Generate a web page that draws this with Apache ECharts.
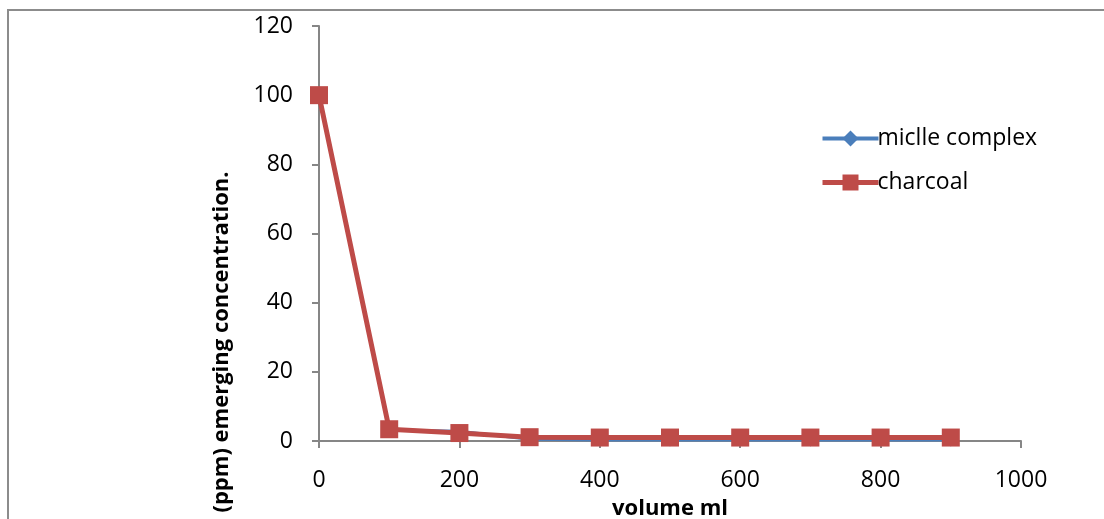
<!DOCTYPE html>
<html><head><meta charset="utf-8">
<script src="https://cdn.jsdelivr.net/npm/echarts@6/dist/echarts.min.js"></script>
<style>html,body{margin:0;padding:0;background:#fff}#c{width:1104px;height:519px}</style>
</head><body><div id="c"></div>
<script>
const volumes = [0, 100, 200, 300, 400, 500, 600, 700, 800, 900];
const micelleComplex = [100, 3.2, 2.8, 0.5, 0.3, 0.3, 0.3, 0.3, 0.3, 0.3];
const charcoal = [100, 3.4, 2.3, 1.1, 1.0, 1.0, 1.0, 1.0, 1.0, 1.0];
const xName = 'volume ml';
const yName = '(ppm) emerging concentration.';
const seriesNames = ['miclle complex', 'charcoal'];

const font = 'Open Sans, Liberation Sans, sans-serif';
const blue = '#4A7EBB', red = '#BE4B48';
const chart = echarts.init(document.getElementById('c'));
const pair = arr => arr.map((v, i) => [volumes[i], v]);
chart.setOption({
  animation: false,
  grid: {left: 319, right: 83, top: 26, bottom: 78, containLabel: false, outerBoundsMode: 'none'},
  legend: {
    orient: 'vertical', left: 815, top: 122, itemGap: 21,
    itemWidth: 56, itemHeight: 20,
    textStyle: {fontFamily: font, fontSize: 23, color: '#000', padding: [0,0,0,-6]},
    data: [
      {name: seriesNames[0], lineStyle: {width: 4, color: blue}, itemStyle: {color: blue}},
      {name: seriesNames[1], lineStyle: {width: 5, color: red}, itemStyle: {color: red}}
    ]
  },
  xAxis: {
    type: 'value', min: 0, max: 1000, interval: 200,
    name: xName, nameLocation: 'middle', nameGap: 57,
    nameTextStyle: {fontFamily: font, fontSize: 22, fontWeight: 'bold', color: '#000'},
    axisLine: {lineStyle: {color: '#868686', width: 2}},
    axisTick: {show: true, inside: false, length: 7, lineStyle: {color: '#868686', width: 2}},
    axisLabel: {fontFamily: font, fontSize: 23, color: '#000', margin: 28, formatter: v => String(v)},
    splitLine: {show: false}
  },
  yAxis: {
    type: 'value', min: 0, max: 120, interval: 20,
    axisLine: {show: true, lineStyle: {color: '#868686', width: 2}},
    axisTick: {show: true, inside: false, length: 7, lineStyle: {color: '#868686', width: 2}},
    axisLabel: {fontFamily: font, fontSize: 23, color: '#000', margin: 26},
    splitLine: {show: false}
  },
  graphic: [
    {type: 'rect', shape: {x: 8, y: 10, width: 1300, height: 700}, style: {fill: 'none', stroke: '#8c8c8c', lineWidth: 2}, silent: true},
    {type: 'text', x: 222, y: 342, rotation: Math.PI / 2,
     style: {text: yName, fontFamily: font, fontSize: 22, fontWeight: 'bold', fill: '#000', align: 'center', verticalAlign: 'middle'}}
  ],
  series: [
    {name: seriesNames[0], type: 'line', data: pair(micelleComplex),
     symbol: 'diamond', symbolSize: 13,
     lineStyle: {color: blue, width: 3}, itemStyle: {color: blue}},
    {name: seriesNames[1], type: 'line', data: pair(charcoal),
     symbol: 'rect', symbolSize: 18,
     lineStyle: {color: red, width: 5}, itemStyle: {color: red}}
  ]
});
</script></body></html>
